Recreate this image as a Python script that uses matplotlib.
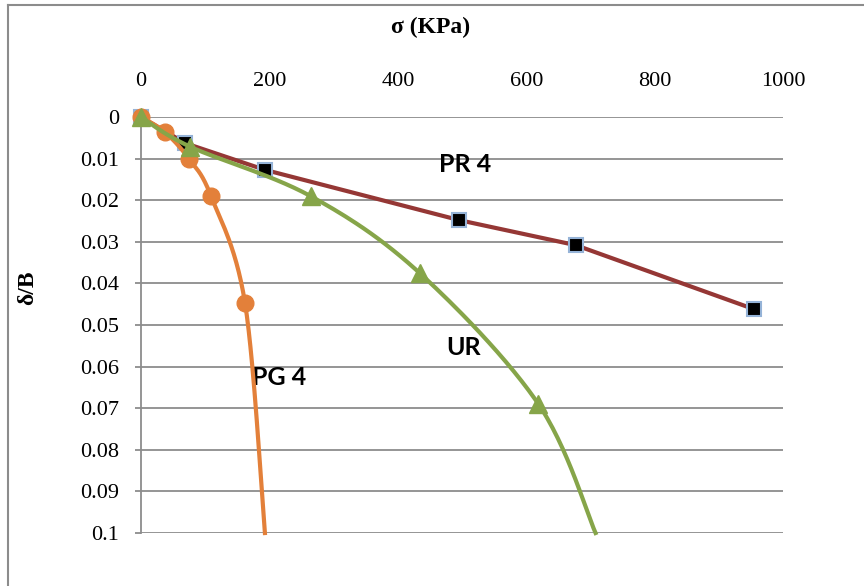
import numpy as np
import matplotlib
matplotlib.use("Agg")
import matplotlib.pyplot as plt
from matplotlib.lines import Line2D

# data (sigma in KPa, settlement ratio delta/B)
pr4_sigma = [0, 69, 193, 496, 677, 955]
pr4_db = [0, 0.0063, 0.0127, 0.0248, 0.0308, 0.0462]

ur_sigma = [0, 76, 264, 434, 619, 708]
ur_db = [0, 0.0071, 0.0190, 0.0375, 0.0690, 0.1]
ur_markers = 5          # last point only carries the line

pg4_sigma = [0, 37, 75, 109, 162, 193]
pg4_db = [0, 0.0036, 0.0101, 0.0190, 0.0447, 0.1]
pg4_markers = 5

x_ticks = [0, 200, 400, 600, 800, 1000]
y_ticks = [0, 0.01, 0.02, 0.03, 0.04, 0.05, 0.06, 0.07, 0.08, 0.09, 0.1]
y_labels = ["0", "0.01", "0.02", "0.03", "0.04", "0.05", "0.06", "0.07",
            "0.08", "0.09", "0.1"]


def smooth(xs, ys, n=30):
    # excel-like smoothed line (catmull-rom through the points)
    p = np.column_stack([xs, ys]).astype(float)
    p = np.vstack([p[0], p, p[-1]])
    out = []
    for i in range(1, len(p) - 2):
        p0, p1, p2, p3 = p[i - 1], p[i], p[i + 1], p[i + 2]
        c1 = p1 + (p2 - p0) / 6
        c2 = p2 - (p3 - p1) / 6
        t = np.linspace(0, 1, n)[:, None]
        seg = ((1 - t) ** 3 * p1 + 3 * (1 - t) ** 2 * t * c1
               + 3 * (1 - t) * t ** 2 * c2 + t ** 3 * p2)
        out.append(seg if i == 1 else seg[1:])
    out = np.vstack(out)
    return out[:, 0], out[:, 1]


fig = plt.figure(figsize=(8.64, 5.86), dpi=100)
ax = fig.add_axes([0.1632, 0.0904, 0.7431, 0.7099])

grid_col = "#8c8c8c"
red = "#953735"
green = "#86A549"
orange = "#E3803A"

# PR 4 (straight segments, drawn underneath)
ax.plot(pr4_sigma, pr4_db, color=red, lw=3, zorder=3, clip_on=False)
ax.plot(pr4_sigma, pr4_db, ls="none", marker="s", ms=10,
        mfc="black", mec="#95B3D7", mew=1.5, zorder=4, clip_on=False)

# PG 4
sx, sy = smooth(pg4_sigma, pg4_db)
ax.plot(sx, sy, color=orange, lw=3, zorder=5, clip_on=False)
ax.plot(pg4_sigma[:pg4_markers], pg4_db[:pg4_markers], ls="none",
        marker="o", ms=12, color=orange, zorder=6, clip_on=False)

# UR
sx, sy = smooth(ur_sigma, ur_db)
ax.plot(sx, sy, color=green, lw=3, zorder=7, clip_on=False)
ax.plot(ur_sigma[:ur_markers], ur_db[:ur_markers], ls="none",
        marker="^", ms=13, color=green, zorder=8, clip_on=False)

ax.set_xlim(0, 1000)
ax.set_ylim(0.1, 0)
ax.set_xticks(x_ticks)
ax.set_yticks(y_ticks)
ax.set_yticklabels(y_labels)
ax.xaxis.tick_top()
ax.tick_params(axis="x", length=0, pad=19, labelsize=16,
               labelfontfamily="Liberation Serif")
ax.tick_params(axis="y", direction="out", length=4.5, width=1.3,
               color=grid_col, pad=11, labelsize=16,
               labelfontfamily="Liberation Serif")
ax.grid(axis="y", color=grid_col, lw=1.3)
ax.set_axisbelow(True)
for s in ["top", "right", "bottom"]:
    ax.spines[s].set_visible(False)
ax.spines["left"].set_color(grid_col)
ax.spines["left"].set_linewidth(1.3)

lab = dict(fontsize=18, fontweight="bold", family="Lato",
           ha="center", va="center")
ax.text(505, 0.0115, "PR 4", **lab)
ax.text(503, 0.0555, "UR", **lab)
ax.text(215, 0.0627, "PG 4", **lab)

fig.text(431 / 864, 1 - 27 / 586, "σ (KPa)", fontsize=17, fontweight="bold",
         family="Liberation Serif", ha="center", va="center")
fig.text(28 / 864, 1 - 288 / 586, "δ/B", fontsize=17, fontweight="bold",
         family="Liberation Serif", rotation=90, ha="center", va="center")

# outer chart border (only top and left show in the picture)
fig.add_artist(Line2D([7.5 / 864, 7.5 / 864], [0, 1 - 4.5 / 586],
                      transform=fig.transFigure, color="#8c8c8c", lw=1.5))
fig.add_artist(Line2D([7.5 / 864, 1], [1 - 4.5 / 586, 1 - 4.5 / 586],
                      transform=fig.transFigure, color="#8c8c8c", lw=1.5))

fig.savefig("out.png", dpi=100)
